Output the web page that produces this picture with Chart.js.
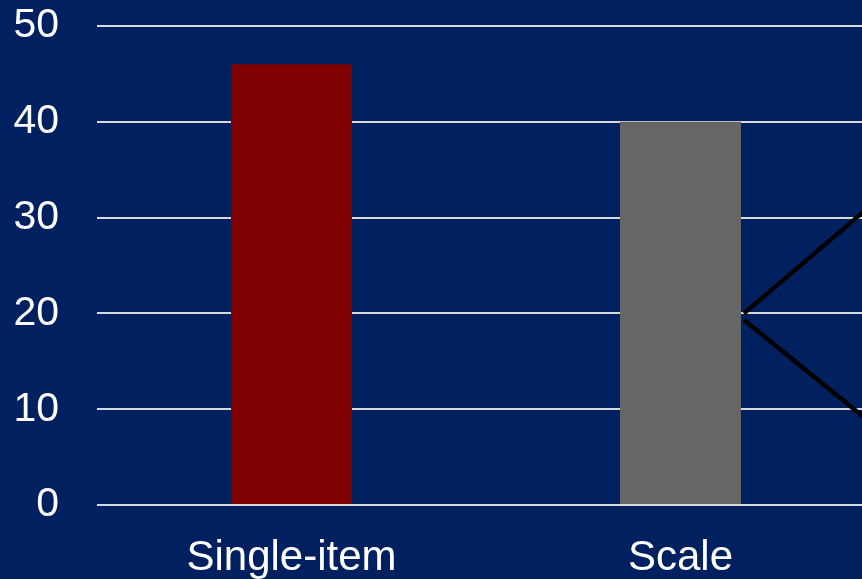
<!DOCTYPE html>
<html>
<head>
<meta charset="utf-8">
<script src="https://cdn.jsdelivr.net/npm/chart.js@4/dist/chart.umd.min.js"></script>
<style>
  html, body { margin: 0; padding: 0; background: #002060; overflow: hidden; }
  #wrap { width: 875px; height: 579px; }
</style>
</head>
<body>
<div id="wrap"><canvas id="chartMedidas" width="875" height="579"></canvas></div>
<script>
const categorias = ['Single-item', 'Scale'];
const valores = [46, 40];
const cores = ['#7f0000', '#666666'];
const ticksY = [0, 10, 20, 30, 40, 50];

// linhas de chamada que saem da barra "Scale"
const chamadaInicio = [20, 19.3];
const chamadaFim = [30.6, 9.2];
const chamadaFimX = 1.47; // posicao em unidades de categoria

const linhasChamada = {
    id: 'linhasChamada',
    afterDatasetsDraw(chart) {
        const { ctx, scales } = chart;
        const barra = chart.getDatasetMeta(0).data[1];
        const x0 = barra.x + barra.width / 2;
        const passo = scales.x.getPixelForValue(1) - scales.x.getPixelForValue(0);
        const x1 = scales.x.getPixelForValue(1) + (chamadaFimX - 1) * passo;
        ctx.save();
        ctx.strokeStyle = '#000000';
        ctx.lineWidth = 4.5;
        for (let i = 0; i < chamadaInicio.length; i++) {
            ctx.beginPath();
            ctx.moveTo(x0 + 3, scales.y.getPixelForValue(chamadaInicio[i]));
            ctx.lineTo(x1, scales.y.getPixelForValue(chamadaFim[i]));
            ctx.stroke();
        }
        ctx.restore();
    }
};

new Chart(document.getElementById('chartMedidas'), {
    type: 'bar',
    data: {
        labels: categorias,
        datasets: [{
            data: valores,
            backgroundColor: cores,
            borderWidth: 0,
            categoryPercentage: 1,
            barPercentage: 0.311
        }]
    },
    options: {
        responsive: false,
        animation: false,
        layout: { padding: { top: 26, left: 0, right: 0, bottom: 0 } },
        scales: {
            y: {
                min: 0,
                max: 50,
                afterBuildTicks: (axis) => { axis.ticks = ticksY.map(v => ({ value: v })); },
                afterFit: (axis) => {
                    axis.width = 97;
                    axis.paddingTop = 0;
                    axis.paddingBottom = 0;
                },
                ticks: {
                    color: '#ffffff',
                    padding: 38,
                    font: { family: 'Liberation Sans, Arial, sans-serif', size: 41 }
                },
                grid: { color: '#d9d9d9', lineWidth: 2, drawTicks: false },
                border: { display: false }
            },
            x: {
                afterFit: (axis) => {
                    axis.height = 74;
                    axis.paddingLeft = 0;
                    axis.paddingRight = 0;
                },
                ticks: {
                    color: '#ffffff',
                    padding: 20,
                    maxRotation: 0,
                    font: { family: 'Liberation Sans, Arial, sans-serif', size: 42 }
                },
                grid: { display: false },
                border: { display: false }
            }
        },
        plugins: {
            legend: { display: false },
            tooltip: { enabled: false }
        }
    },
    plugins: [linhasChamada]
});
</script>
</body>
</html>
